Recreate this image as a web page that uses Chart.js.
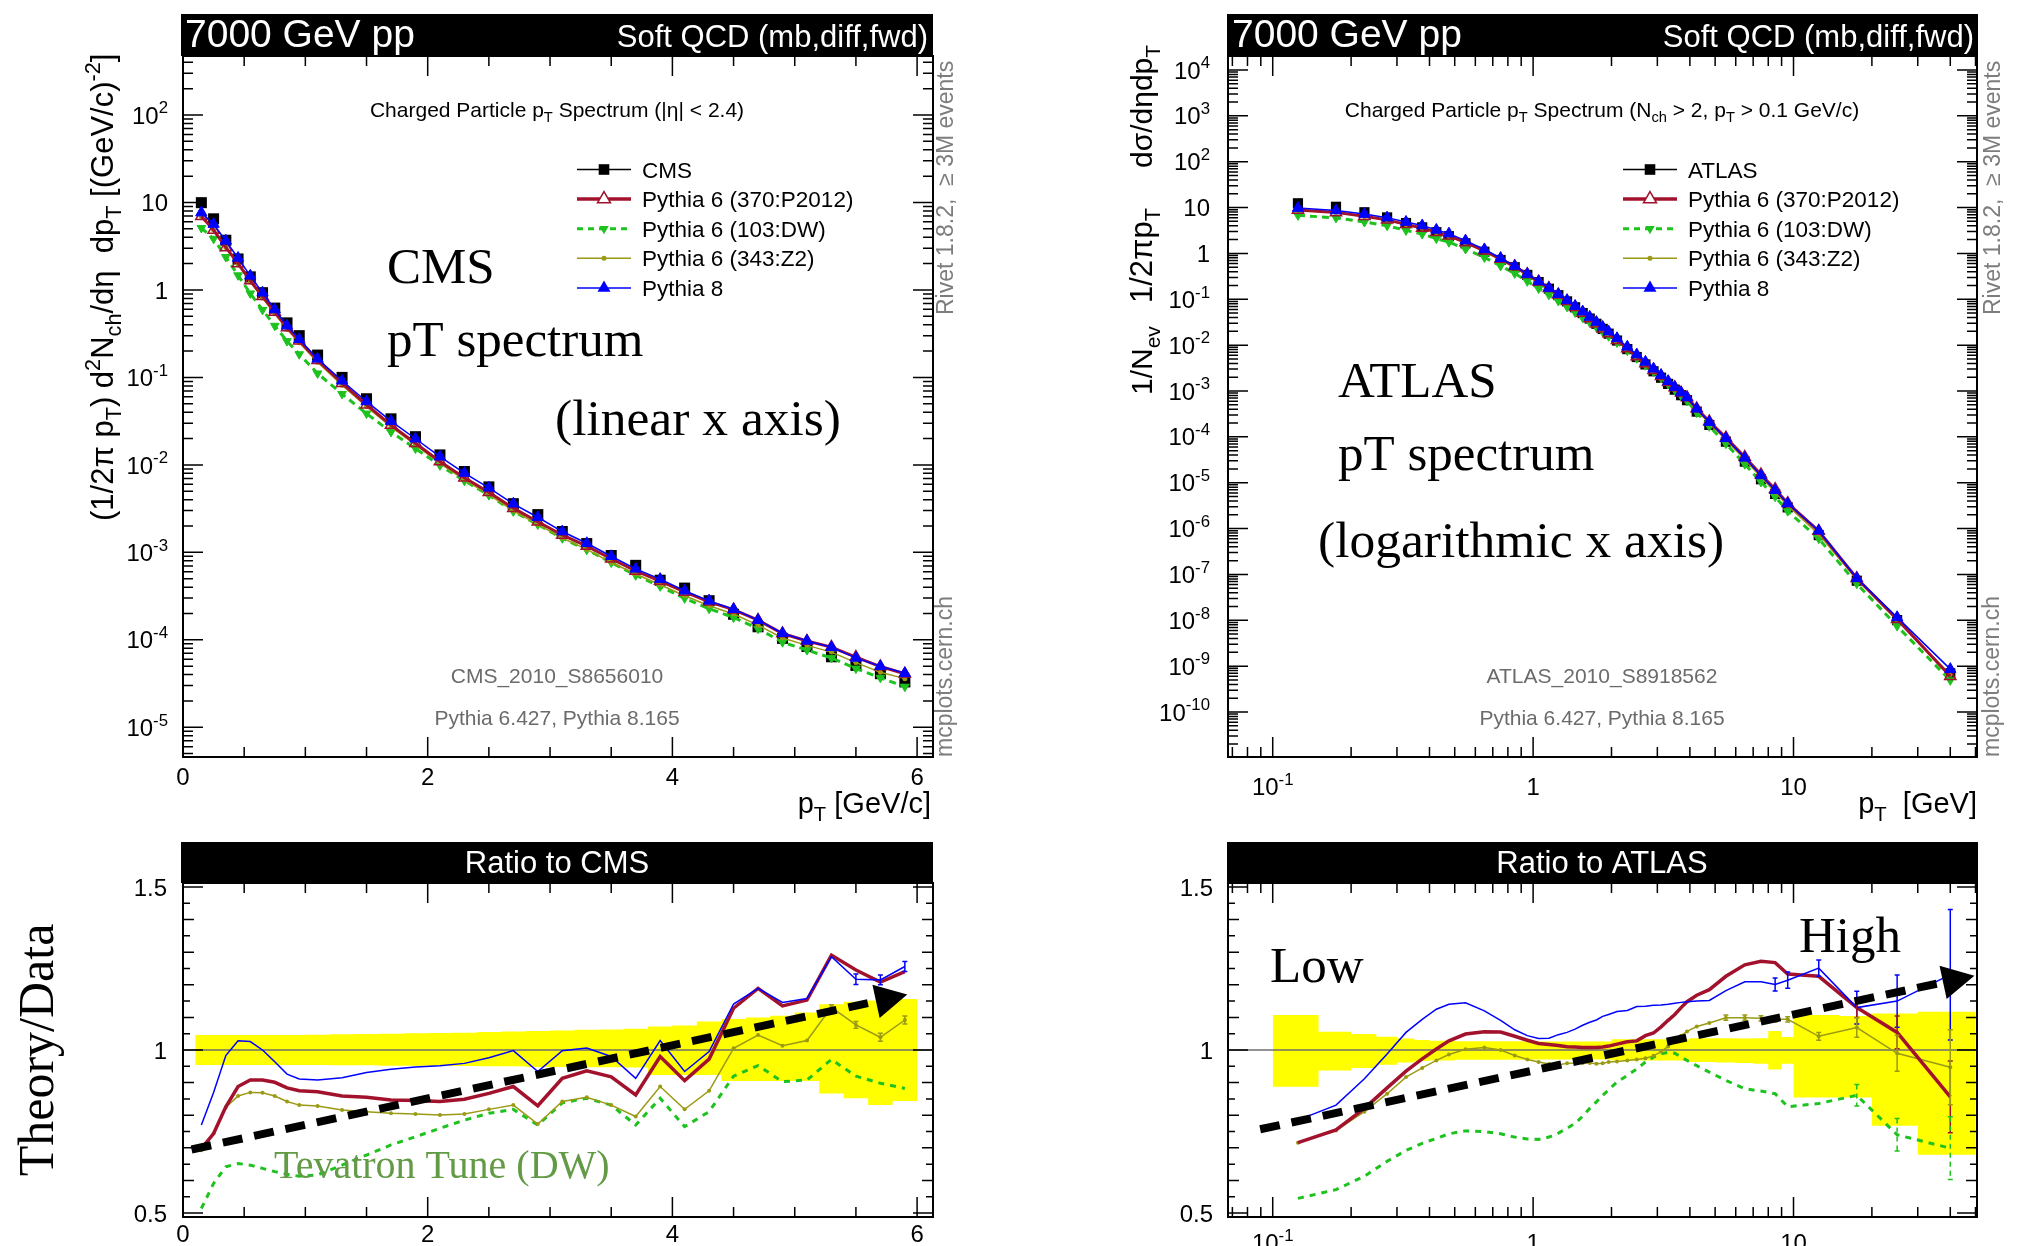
<!DOCTYPE html>
<html><head><meta charset="utf-8">
<script src="https://cdn.jsdelivr.net/npm/chart.js@4.4.1/dist/chart.umd.min.js"></script>
<style>
html,body{margin:0;padding:0;background:#fff;overflow:hidden;width:2018px;height:1246px;}
canvas{position:absolute;left:0;top:0;}
</style></head><body>
<canvas id="tl" width="2018" height="1246"></canvas>
<canvas id="tr" width="2018" height="1246"></canvas>
<canvas id="bl" width="2018" height="1246"></canvas>
<canvas id="br" width="2018" height="1246"></canvas>
<script>
// ---------------- DATA ----------------
const seriesNames = ['Pythia 6 (370:P2012)', 'Pythia 6 (103:DW)', 'Pythia 6 (343:Z2)', 'Pythia 8'];

// CMS (linear x)
const cmsPt = [0.15,0.25,0.35,0.45,0.55,0.65,0.75,0.85,0.95,1.1,1.3,1.5,1.7,1.9,2.1,2.3,2.5,2.7,2.9,3.1,3.3,3.5,3.7,3.9,4.1,4.3,4.5,4.7,4.9,5.1,5.3,5.5,5.7,5.9];
const cmsEdges = [0.1,0.2,0.3,0.4,0.5,0.6,0.7,0.8,0.9,1.0,1.2,1.4,1.6,1.8,2.0,2.2,2.4,2.6,2.8,3.0,3.2,3.4,3.6,3.8,4.0,4.2,4.4,4.6,4.8,5.0,5.2,5.4,5.6,5.8,6.0];
const cmsData = [9.95,6.5,3.7,2.26,1.41,0.93,0.62,0.42,0.30,0.18,0.10,0.057,0.0336,0.021,0.013,0.0084,0.0056,0.0036,0.0027,0.00173,0.00126,0.00092,0.00071,0.00048,0.00039,0.00028,0.000196,0.000141,0.000104,0.000084,0.000064,0.000051,0.000041,0.000033];
const cmsP2012 = [6.95,4.84,3.06,2.01,1.28,0.845,0.559,0.371,0.263,0.157,0.0859,0.0487,0.0285,0.0177,0.01095,0.00713,0.00486,0.0032,0.00224,0.00158,0.00118,0.000845,0.000612,0.00047,0.000353,0.000272,0.000221,0.000168,0.000118,0.0000969,0.0000826,0.0000635,0.0000495,0.0000409];
const cmsDW = [5.11,3.84,2.38,1.47,0.912,0.592,0.389,0.26,0.184,0.111,0.0647,0.0386,0.0238,0.0154,0.00988,0.00659,0.00451,0.00294,0.00208,0.00145,0.00107,0.000765,0.000547,0.000409,0.000298,0.000227,0.00018,0.000134,0.0000939,0.0000763,0.0000621,0.0000469,0.0000368,0.0000291];
const cmsZ2 = [6.90,4.84,3.05,1.94,1.23,0.808,0.533,0.354,0.249,0.149,0.0816,0.0462,0.0271,0.0169,0.0104,0.00675,0.00458,0.00299,0.00209,0.00146,0.00108,0.000765,0.000565,0.000426,0.000319,0.000245,0.000197,0.000147,0.000105,0.0000864,0.0000724,0.0000549,0.0000426,0.000036];
const cmsPy8 = [7.66,5.66,3.64,2.32,1.45,0.93,0.598,0.389,0.273,0.163,0.0915,0.0531,0.0316,0.0199,0.0124,0.00806,0.00547,0.00359,0.00252,0.00173,0.00127,0.000902,0.000648,0.000494,0.000364,0.000279,0.000224,0.000168,0.000119,0.0000973,0.0000823,0.0000621,0.0000498,0.0000414];
const cmsRatioP2012 = [0.698,0.744,0.826,0.888,0.908,0.908,0.901,0.884,0.875,0.872,0.859,0.855,0.847,0.845,0.842,0.849,0.867,0.888,0.829,0.913,0.936,0.918,0.862,0.98,0.906,0.972,1.128,1.189,1.135,1.153,1.291,1.245,1.208,1.24];
const cmsRatioDW = [0.514,0.591,0.642,0.652,0.647,0.637,0.627,0.619,0.613,0.617,0.647,0.678,0.709,0.734,0.76,0.785,0.806,0.818,0.77,0.838,0.852,0.831,0.77,0.852,0.765,0.811,0.92,0.952,0.903,0.908,0.971,0.92,0.898,0.882];
const cmsRatioZ2 = [0.693,0.744,0.824,0.859,0.87,0.869,0.859,0.842,0.831,0.828,0.816,0.811,0.806,0.804,0.801,0.804,0.818,0.831,0.773,0.842,0.855,0.831,0.796,0.888,0.818,0.875,1.005,1.046,1.013,1.029,1.131,1.077,1.039,1.092];
const cmsRatioPy8 = [0.77,0.87,0.983,1.028,1.026,1.0,0.964,0.926,0.911,0.908,0.915,0.931,0.941,0.948,0.952,0.959,0.976,0.998,0.934,0.998,1.006,0.98,0.913,1.029,0.934,0.995,1.141,1.189,1.146,1.158,1.286,1.217,1.215,1.256];
const cmsBandHi = [1.046,1.046,1.046,1.046,1.046,1.046,1.046,1.046,1.046,1.047,1.048,1.049,1.05,1.051,1.052,1.053,1.055,1.057,1.058,1.06,1.062,1.063,1.065,1.072,1.075,1.087,1.095,1.1,1.105,1.115,1.14,1.148,1.152,1.156];
const cmsBandLo = [0.954,0.954,0.954,0.954,0.954,0.954,0.954,0.954,0.954,0.954,0.953,0.953,0.952,0.952,0.951,0.951,0.95,0.95,0.948,0.948,0.947,0.947,0.946,0.923,0.923,0.923,0.905,0.905,0.905,0.905,0.867,0.852,0.831,0.844];
const cmsErrZ2 = [0,0,0,0,0,0,0,0,0,0,0,0,0,0,0,0,0,0,0,0,0,0,0,0,0,0,0,0,0,0,0.008,0.01,0.012,0.012];
const cmsErrPy8 = [0,0,0,0,0,0,0,0,0,0,0,0,0,0,0,0,0,0,0,0,0,0,0,0,0,0,0,0,0,0,0,0.016,0.015,0.015];

// ATLAS (log x)
const atlasPt = [0.125,0.175,0.225,0.275,0.325,0.375,0.425,0.475,0.55,0.65,0.75,0.85,0.95,1.05,1.15,1.25,1.35,1.45,1.55,1.65,1.75,1.85,1.95,2.1,2.3,2.5,2.7,2.9,3.1,3.3,3.5,3.7,3.9,4.25,4.75,5.5,6.5,7.5,8.5,9.5,12.5,17.5,25,40];
const atlasEdges = [0.1,0.15,0.2,0.25,0.3,0.35,0.4,0.45,0.5,0.6,0.7,0.8,0.9,1.0,1.1,1.2,1.3,1.4,1.5,1.6,1.7,1.8,1.9,2.0,2.2,2.4,2.6,2.8,3.0,3.2,3.4,3.6,3.8,4.0,4.5,5.0,6.0,7.0,8.0,9.0,10,15,20,30,50];
const atlasData = [12.4,10.4,7.9,6.1,4.6,3.7,2.9,2.37,1.66,1.09,0.72,0.50,0.34,0.237,0.17,0.123,0.090,0.0668,0.050,0.038,0.0292,0.0226,0.0178,0.0126,0.0082,0.0055,0.0038,0.00269,0.00195,0.00143,0.00107,0.00081,0.00063,0.000355,0.000182,7.85e-5,2.88e-5,1.19e-5,5.7e-6,2.9e-6,7.2e-7,7.3e-8,1.01e-8,7.0e-10];
const atlasP2012 = [8.88,7.85,6.49,5.39,4.30,3.60,2.91,2.44,1.74,1.15,0.76,0.521,0.350,0.242,0.173,0.125,0.0909,0.0674,0.0504,0.0383,0.0294,0.0228,0.018,0.0128,0.0084,0.00565,0.00397,0.00283,0.00209,0.00156,0.00119,0.000915,0.000723,0.000415,0.000216,9.62e-5,3.63e-5,1.51e-5,7.23e-6,3.58e-6,8.83e-7,8.25e-8,1.06e-8,6.0e-10];
const atlasDW = [6.76,5.95,4.84,4.02,3.18,2.64,2.11,1.76,1.25,0.818,0.535,0.367,0.247,0.172,0.125,0.0916,0.0684,0.0518,0.0399,0.0312,0.0246,0.0195,0.0156,0.0114,0.00756,0.00518,0.00366,0.00263,0.00193,0.00142,0.00106,0.000792,0.00061,0.000338,0.00017,7.12e-5,2.54e-5,1.04e-5,4.94e-6,2.4e-6,6.02e-7,6.29e-8,7.47e-9,4.9e-10];
const atlasZ2 = [8.88,7.83,6.41,5.28,4.22,3.50,2.81,2.34,1.66,1.10,0.72,0.492,0.330,0.228,0.163,0.117,0.0863,0.0641,0.048,0.0365,0.028,0.0217,0.0171,0.0122,0.00794,0.00534,0.00371,0.00264,0.00194,0.00145,0.0011,0.000846,0.000666,0.000381,0.000197,8.63e-5,3.17e-5,1.31e-5,6.24e-6,3.17e-6,7.5e-7,7.8e-8,1.0e-8,6.6e-10];
const atlasPy8 = [9.73,8.64,7.2,6.03,4.85,4.05,3.26,2.70,1.90,1.22,0.786,0.531,0.355,0.245,0.176,0.129,0.0949,0.0711,0.0538,0.0412,0.0319,0.0249,0.0197,0.0141,0.00919,0.00623,0.00431,0.00306,0.00222,0.00163,0.00122,0.000928,0.000723,0.000408,0.00021,9.28e-5,3.48e-5,1.44e-5,6.85e-6,3.52e-6,9.0e-7,8.25e-8,1.16e-8,8.6e-10];
const atlasRatioP2012 = [0.716,0.755,0.821,0.884,0.935,0.973,1.003,1.028,1.049,1.056,1.055,1.042,1.03,1.02,1.017,1.014,1.01,1.009,1.008,1.008,1.008,1.009,1.012,1.018,1.025,1.028,1.044,1.052,1.071,1.091,1.109,1.13,1.148,1.168,1.185,1.226,1.261,1.272,1.268,1.233,1.226,1.13,1.054,0.856];
const atlasRatioDW = [0.545,0.572,0.613,0.659,0.692,0.714,0.729,0.743,0.752,0.75,0.743,0.733,0.727,0.726,0.733,0.745,0.76,0.775,0.797,0.821,0.841,0.861,0.878,0.902,0.922,0.942,0.963,0.978,0.988,0.993,0.99,0.978,0.968,0.952,0.932,0.907,0.881,0.874,0.866,0.826,0.836,0.861,0.74,0.699];
const atlasRatioZ2 = [0.716,0.753,0.811,0.866,0.917,0.945,0.968,0.986,1.002,1.008,1.0,0.983,0.971,0.963,0.957,0.955,0.959,0.96,0.96,0.96,0.958,0.959,0.963,0.965,0.968,0.971,0.975,0.982,0.995,1.011,1.028,1.044,1.057,1.072,1.083,1.099,1.099,1.097,1.094,1.094,1.042,1.069,0.99,0.947];
const atlasRatioPy8 = [0.785,0.831,0.912,0.988,1.054,1.094,1.125,1.14,1.145,1.12,1.091,1.062,1.044,1.035,1.036,1.047,1.054,1.064,1.076,1.085,1.092,1.103,1.109,1.118,1.121,1.133,1.134,1.137,1.138,1.14,1.143,1.146,1.148,1.15,1.152,1.182,1.209,1.209,1.201,1.214,1.251,1.13,1.15,1.231];
const atlasBandHi = [1.107,1.056,1.049,1.041,1.035,1.031,1.028,1.028,1.027,1.027,1.027,1.027,1.027,1.026,1.026,1.026,1.026,1.026,1.026,1.026,1.026,1.026,1.026,1.033,1.033,1.033,1.033,1.033,1.033,1.033,1.033,1.033,1.033,1.036,1.036,1.036,1.035,1.036,1.058,1.04,1.107,1.104,1.112,1.117];
const atlasBandLo = [0.887,0.937,0.945,0.955,0.962,0.966,0.968,0.968,0.97,0.97,0.97,0.97,0.97,0.971,0.971,0.971,0.971,0.971,0.971,0.971,0.971,0.971,0.971,0.968,0.968,0.968,0.968,0.968,0.968,0.968,0.968,0.968,0.968,0.963,0.963,0.962,0.96,0.958,0.94,0.958,0.854,0.854,0.768,0.679];
const atlasErrPy8 = [0,0,0,0,0,0,0,0,0,0,0,0,0,0,0,0,0,0,0,0,0,0,0,0,0,0,0,0,0,0,0,0,0,0,0,0,0,0,0.02,0.025,0.025,0.05,0.08,0.2];
const atlasErrP2012 = [0,0,0,0,0,0,0,0,0,0,0,0,0,0,0,0,0,0,0,0,0,0,0,0,0,0,0,0,0,0,0,0,0,0,0,0,0,0,0,0,0,0.03,0.05,0.11];
const atlasErrZ2 = [0,0,0,0,0,0,0,0,0,0,0,0,0,0,0,0,0,0,0,0,0,0,0,0,0,0,0,0,0,0,0,0,0,0,0,0.008,0.008,0.008,0.008,0.008,0.012,0.03,0.055,0.115];
const atlasErrDW = [0,0,0,0,0,0,0,0,0,0,0,0,0,0,0,0,0,0,0,0,0,0,0,0,0,0,0,0,0,0,0,0,0,0,0,0,0,0,0,0,0,0.033,0.05,0.096];

// tick labels
const tlXTicks = [0,2,4,6], tlXLabels = ['0','2','4','6'];
const tlYTicks = [1e2,1e1,1,1e-1,1e-2,1e-3,1e-4,1e-5];
const tlYLabels = ['10^{2}','10','1','10^{-1}','10^{-2}','10^{-3}','10^{-4}','10^{-5}'];
const trXTicks = [0.1,1,10], trXLabels = ['10^{-1}','1','10'];
const trYTicks = [1e4,1e3,1e2,1e1,1,1e-1,1e-2,1e-3,1e-4,1e-5,1e-6,1e-7,1e-8,1e-9,1e-10];
const trYLabels = ['10^{4}','10^{3}','10^{2}','10','1','10^{-1}','10^{-2}','10^{-3}','10^{-4}','10^{-5}','10^{-6}','10^{-7}','10^{-8}','10^{-9}','10^{-10}'];
const ratioYTicks = [0.5,1,1.5], ratioYLabels = ['0.5','1','1.5'];

// annotation arrows (data coordinates of ratio panels)
const arrowCMS = {x0: 0.07, y0: 0.695, x1: 5.92, y1: 1.17};
const arrowATLAS = {x0: 0.0895, y0: 0.757, x1: 49.5, y1: 1.228};

// ---------------- STYLE / HELPERS ----------------
const SANS = '"Liberation Sans", Arial, Helvetica, sans-serif';
const SERIF = '"Liberation Serif", "Times New Roman", Times, serif';
const RED = '#a3122c', GREEN = '#1ec21e', OLIVE = '#9a9a14', BLUE = '#0000ff', YELLOW = '#ffff00';
const W = 2018, H = 1246;
const FR = {tl:{l:183,t:56,r:933,b:757}, tr:{l:1228,t:56,r:1977,b:757}, bl:{l:183,t:883,r:933,b:1217}, br:{l:1228,t:883,r:1977,b:1217}};
const RANGE = {tlX:[0,6.13], tlY:[4.574e-6,472.6], trX:[0.06734,50.66], trY:[1.045e-11,2.018e4], rY:[0.488,1.512]};

function pts(xs, ys){ return xs.map((x,i)=>({x:x, y:ys[i]})); }
function steps(edges, vals){ const a = vals.map((v,i)=>({x:edges[i], y:v})); a.push({x:edges[edges.length-1], y:vals[vals.length-1]}); return a; }
function fnt(s, f){ return s + 'px ' + f; }
function parseRich(s){
  const out=[]; let i=0, cur='';
  while(i<s.length){
    if((s[i]==='_'||s[i]==='^') && s[i+1]==='{'){
      if(cur) out.push([cur,0]); cur='';
      const j=s.indexOf('}',i);
      out.push([s.slice(i+2,j), s[i]==='_'?1:2]); i=j+1;
    } else { cur+=s[i]; i++; }
  }
  if(cur) out.push([cur,0]);
  return out;
}
function drawRich(ctx, str, x, y, o){
  const size=o.size, fam=o.fam||SANS, segs=parseRich(str);
  ctx.save(); ctx.translate(x,y); if(o.rot) ctx.rotate(o.rot);
  ctx.fillStyle=o.color||'#000'; ctx.textBaseline='alphabetic'; ctx.textAlign='left';
  let w=0; for(const [t,m] of segs){ ctx.font=fnt(m?size*0.7:size,fam); w+=ctx.measureText(t).width; }
  let cx = o.align==='center' ? -w/2 : (o.align==='right' ? -w : 0);
  for(const [t,m] of segs){
    ctx.font=fnt(m?size*0.7:size,fam);
    const dy = m===1 ? size*0.26 : (m===2 ? -size*0.43 : 0);
    ctx.fillText(t,cx,dy); cx+=ctx.measureText(t).width;
  }
  ctx.restore();
}
function linTicks(min,max,step,len,majStep,majLen){
  const t=[]; const n0=Math.ceil(min/step-1e-9), n1=Math.floor(max/step+1e-9);
  for(let n=n0;n<=n1;n++){ const v=+(n*step).toFixed(6); const mj=Math.abs(v/majStep-Math.round(v/majStep))<1e-6; t.push([v, mj?majLen:len]); }
  return t;
}
function ratioTicks(min,max){
  const t=[]; for(let n=Math.ceil(min*20);n<=Math.floor(max*20);n++){ const v=n/20; let len=7; if(n%2===0) len=11; if(n%10===0) len=20; t.push([v,len]); }
  return t;
}
function logTicks(min,max,majLen,minLen){
  const t=[]; for(let e=Math.floor(Math.log10(min));e<=Math.ceil(Math.log10(max));e++) for(let m=1;m<=9;m++){ const v=m*Math.pow(10,e); if(v>=min&&v<=max) t.push([v, m===1?majLen:minLen]); }
  return t;
}
function drawAxes(c, xt, yt){
  const ctx=c.ctx, a=c.chartArea, xs=c.scales.x, ys=c.scales.y;
  ctx.save(); ctx.strokeStyle='#000'; ctx.lineWidth=1.5; ctx.beginPath();
  for(const [v,len] of xt){ const px=xs.getPixelForValue(v); if(px<a.left-0.5||px>a.right+0.5) continue; ctx.moveTo(px,a.bottom); ctx.lineTo(px,a.bottom-len); ctx.moveTo(px,a.top); ctx.lineTo(px,a.top+len); }
  for(const [v,len] of yt){ const py=ys.getPixelForValue(v); if(py<a.top-0.5||py>a.bottom+0.5) continue; ctx.moveTo(a.left,py); ctx.lineTo(a.left+len,py); ctx.moveTo(a.right,py); ctx.lineTo(a.right-len,py); }
  ctx.stroke();
  ctx.lineWidth=2; ctx.strokeRect(a.left,a.top,a.right-a.left,a.bottom-a.top);
  ctx.restore();
}
function yLabels(c, vals, labs, xr, size){ vals.forEach((v,i)=>{ const py=c.scales.y.getPixelForValue(v); drawRich(c.ctx, labs[i], xr, py+size*0.36, {size:size, align:'right'}); }); }
function xLabels(c, vals, labs, base, size){ vals.forEach((v,i)=>{ const px=c.scales.x.getPixelForValue(v); drawRich(c.ctx, labs[i], px, base, {size:size, align:'center'}); }); }
function header(ctx, x0, x1, y0, y1){ ctx.save(); ctx.fillStyle='#000'; ctx.fillRect(x0,y0,x1-x0,y1-y0); ctx.restore(); }
function marker(ctx, kind, x, y, r, color){
  ctx.save(); ctx.fillStyle=color; ctx.strokeStyle=color; ctx.lineWidth=1.5; ctx.beginPath();
  if(kind==='rect'){ const s=r*Math.SQRT1_2; ctx.rect(x-s,y-s,2*s,2*s); ctx.fill(); }
  else if(kind==='dot'){ ctx.arc(x,y,r,0,Math.PI*2); ctx.fill(); }
  else { const sg = kind==='dtri'?-1:1; ctx.moveTo(x,y-sg*r); ctx.lineTo(x+0.866*r,y+sg*0.5*r); ctx.lineTo(x-0.866*r,y+sg*0.5*r); ctx.closePath();
    if(kind==='otri'){ ctx.fillStyle='#fff'; ctx.fill(); ctx.stroke(); } else ctx.fill(); }
  ctx.restore();
}
function legend(ctx, dx, first){
  const items=[[first,'#000',1.5,null,'rect',7.5],[seriesNames[0],RED,3.5,null,'otri',7.5],[seriesNames[1],GREEN,3,[6,5],'dtri',5.5],[seriesNames[2],OLIVE,1.5,null,'dot',2.5],[seriesNames[3],BLUE,1.5,null,'tri',7.5]];
  items.forEach((it,i)=>{
    const y=169.5+29.6*i;
    ctx.save(); ctx.strokeStyle=it[1]; ctx.lineWidth=it[2]; ctx.setLineDash(it[3]||[]); ctx.beginPath(); ctx.moveTo(577+dx,y); ctx.lineTo(631+dx,y); ctx.stroke(); ctx.restore();
    marker(ctx,it[4],604+dx,y,it[5],it[1]);
    drawRich(ctx,it[0],642+dx,y+8,{size:22.5});
  });
}
function drawErrors(c){
  const ctx=c.ctx, xs=c.scales.x, ys=c.scales.y;
  c.data.datasets.forEach(ds=>{
    if(!ds.errs) return;
    ctx.save(); ctx.strokeStyle=ds.borderColor; ctx.lineWidth=1.5; ctx.setLineDash(ds.errDash||[]);
    ds.data.forEach((p,i)=>{ const e=ds.errs[i]; if(!e) return;
      const px=xs.getPixelForValue(p.x), y1=ys.getPixelForValue(p.y+e), y2=ys.getPixelForValue(p.y-e);
      ctx.beginPath(); ctx.moveTo(px,y1); ctx.lineTo(px,y2); ctx.moveTo(px-2.5,y1); ctx.lineTo(px+2.5,y1); ctx.moveTo(px-2.5,y2); ctx.lineTo(px+2.5,y2); ctx.stroke(); });
    ctx.restore();
  });
}
function drawArrow(c, ar){
  const ctx=c.ctx, xs=c.scales.x, ys=c.scales.y;
  const x0=xs.getPixelForValue(ar.x0), y0=ys.getPixelForValue(ar.y0), x1=xs.getPixelForValue(ar.x1), y1=ys.getPixelForValue(ar.y1);
  const ang=Math.atan2(y1-y0,x1-x0), L=32, hw=17;
  const bx=x1-L*Math.cos(ang), by=y1-L*Math.sin(ang);
  ctx.save(); ctx.strokeStyle='#000'; ctx.fillStyle='#000'; ctx.lineWidth=8; ctx.lineCap='butt'; ctx.setLineDash([20,12]);
  ctx.beginPath(); ctx.moveTo(x0,y0); ctx.lineTo(bx,by); ctx.stroke();
  ctx.setLineDash([]); ctx.beginPath(); ctx.moveTo(x1,y1); ctx.lineTo(bx-hw*Math.sin(ang),by+hw*Math.cos(ang)); ctx.lineTo(bx+hw*Math.sin(ang),by-hw*Math.cos(ang)); ctx.closePath(); ctx.fill();
  ctx.restore();
}
function specSets(xs, data, p2012, dw, z2, py8, sq){
  return [
    {data:pts(xs,py8), borderColor:BLUE, borderWidth:1.5, pointStyle:'triangle', pointRadius:6.5, pointBackgroundColor:BLUE, pointBorderColor:BLUE, pointBorderWidth:1, order:1},
    {data:pts(xs,p2012), borderColor:RED, borderWidth:3, pointStyle:'triangle', pointRadius:6.5, pointBackgroundColor:'rgba(0,0,0,0)', pointBorderColor:RED, pointBorderWidth:1.5, order:2},
    {data:pts(xs,z2), borderColor:OLIVE, borderWidth:1.5, pointStyle:'circle', pointRadius:2.5, pointBackgroundColor:OLIVE, pointBorderColor:OLIVE, pointBorderWidth:0, order:3},
    {data:pts(xs,dw), borderColor:GREEN, borderWidth:3, borderDash:[7,5], pointStyle:'triangle', pointRotation:180, pointRadius:5, pointBackgroundColor:GREEN, pointBorderColor:GREEN, pointBorderWidth:1, order:4},
    {data:pts(xs,data), showLine:false, pointStyle:'rect', pointRadius:sq, pointBackgroundColor:'#000', pointBorderColor:'#000', pointBorderWidth:0, order:5}
  ];
}
function ratioSets(xs, edges, rP, rD, rZ, rB, hi, lo, xr, errs){
  return [
    {data:pts(xs,rB), borderColor:BLUE, borderWidth:1.5, pointRadius:0, order:1, errs:errs.py8},
    {data:pts(xs,rP), borderColor:RED, borderWidth:3.5, pointRadius:0, order:2, errs:errs.p2012},
    {data:pts(xs,rZ), borderColor:OLIVE, borderWidth:1.5, pointRadius:2, pointBackgroundColor:OLIVE, pointBorderColor:OLIVE, pointBorderWidth:0, order:3, errs:errs.z2},
    {data:pts(xs,rD), borderColor:GREEN, borderWidth:3, borderDash:[6,6], pointRadius:0, order:4, errs:errs.dw, errDash:[5,4]},
    {data:[{x:xr[0],y:1},{x:xr[1],y:1}], borderColor:'#6e6e6e', borderWidth:1.5, pointRadius:0, order:8},
    {data:steps(edges,hi), borderColor:'rgba(0,0,0,0)', borderWidth:0, stepped:true, fill:'+1', backgroundColor:YELLOW, pointRadius:0, order:9},
    {data:steps(edges,lo), borderColor:'rgba(0,0,0,0)', borderWidth:0, stepped:true, fill:false, pointRadius:0, order:10}
  ];
}
function makeChart(id, fr, xType, xr, yType, yr, datasets, draw, arrow){
  return new Chart(document.getElementById(id), {
    type:'line',
    data:{datasets:datasets},
    options:{
      responsive:false, maintainAspectRatio:false, animation:false, devicePixelRatio:1, events:[],
      layout:{padding:{left:fr.l, top:fr.t, right:W-fr.r, bottom:H-fr.b}},
      scales:{
        x:{type:xType, min:xr[0], max:xr[1], display:false, bounds:'data'},
        y:{type:yType, min:yr[0], max:yr[1], display:false, bounds:'data'}
      },
      plugins:{legend:{display:false}, tooltip:{enabled:false}, title:{display:false}},
      elements:{line:{tension:0}}
    },
    plugins:[{id:'deco', afterDatasetsDraw(c){ drawErrors(c); if(arrow) drawArrow(c, arrow); }, afterDraw(c){ draw(c); }}]
  });
}
const rot = -Math.PI/2;

// ---------------- TOP LEFT ----------------
makeChart('tl', FR.tl, 'linear', RANGE.tlX, 'logarithmic', RANGE.tlY,
  specSets(cmsPt, cmsData, cmsP2012, cmsDW, cmsZ2, cmsPy8, 7.8),
  function(c){
    const ctx=c.ctx;
    drawAxes(c, linTicks(0,6.13,0.5,10,2,20), logTicks(RANGE.tlY[0],RANGE.tlY[1],20,10));
    header(ctx,181,933,14,56);
    drawRich(ctx,'7000 GeV pp',185,47,{size:39,color:'#fff'});
    drawRich(ctx,'Soft QCD (mb,diff,fwd)',928,47,{size:31,color:'#fff',align:'right'});
    drawRich(ctx,'Charged Particle p_{T} Spectrum (|η| < 2.4)',557,117,{size:21,align:'center'});
    legend(ctx,0,'CMS');
    drawRich(ctx,'CMS',387,283,{size:51,fam:SERIF});
    drawRich(ctx,'pT spectrum',387,356,{size:51,fam:SERIF});
    drawRich(ctx,'(linear x axis)',555,435,{size:51.5,fam:SERIF});
    drawRich(ctx,'CMS_2010_S8656010',557,683,{size:21,color:'#6b6b6b',align:'center'});
    drawRich(ctx,'Pythia 6.427, Pythia 8.165',557,725,{size:21,color:'#6b6b6b',align:'center'});
    drawRich(ctx,'Rivet 1.8.2,  ≥ 3M events',953,315,{size:23,color:'#7d7d7d',rot:rot});
    drawRich(ctx,'mcplots.cern.ch',952,757,{size:23,color:'#7d7d7d',rot:rot});
    yLabels(c,tlYTicks,tlYLabels,168,24);
    xLabels(c,tlXTicks,tlXLabels,785,24);
    drawRich(ctx,'p_{T} [GeV/c]',931,813,{size:29,align:'right'});
    drawRich(ctx,'(1/2π p_{T}) d^{2}N_{ch}/dη  dp_{T} [(GeV/c)^{-2}]',113,521,{size:31,rot:rot});
  });

// ---------------- TOP RIGHT ----------------
makeChart('tr', FR.tr, 'logarithmic', RANGE.trX, 'logarithmic', RANGE.trY,
  specSets(atlasPt, atlasData, atlasP2012, atlasDW, atlasZ2, atlasPy8, 7.2),
  function(c){
    const ctx=c.ctx;
    drawAxes(c, logTicks(RANGE.trX[0],RANGE.trX[1],20,10), logTicks(RANGE.trY[0],RANGE.trY[1],20,10));
    header(ctx,1227,1978,14,56);
    drawRich(ctx,'7000 GeV pp',1232,47,{size:39,color:'#fff'});
    drawRich(ctx,'Soft QCD (mb,diff,fwd)',1974,47,{size:31,color:'#fff',align:'right'});
    drawRich(ctx,'Charged Particle p_{T} Spectrum (N_{ch} > 2, p_{T} > 0.1 GeV/c)',1602,117,{size:21,align:'center'});
    legend(ctx,1046,'ATLAS');
    drawRich(ctx,'ATLAS',1338,397,{size:51,fam:SERIF});
    drawRich(ctx,'pT spectrum',1338,470,{size:51,fam:SERIF});
    drawRich(ctx,'(logarithmic x axis)',1318,557,{size:51.5,fam:SERIF});
    drawRich(ctx,'ATLAS_2010_S8918562',1602,683,{size:21,color:'#6b6b6b',align:'center'});
    drawRich(ctx,'Pythia 6.427, Pythia 8.165',1602,725,{size:21,color:'#6b6b6b',align:'center'});
    drawRich(ctx,'Rivet 1.8.2,  ≥ 3M events',2000,315,{size:23,color:'#7d7d7d',rot:rot});
    drawRich(ctx,'mcplots.cern.ch',1999,757,{size:23,color:'#7d7d7d',rot:rot});
    yLabels(c,trYTicks,trYLabels,1210,24);
    xLabels(c,trXTicks,trXLabels,795,24);
    drawRich(ctx,'p_{T}  [GeV]',1977,813,{size:29,align:'right'});
    drawRich(ctx,'1/N_{ev}',1152,395,{size:30,rot:rot});
    drawRich(ctx,'1/2πp_{T}',1152,303,{size:31,rot:rot});
    drawRich(ctx,'dσ/dηdp_{T}',1152,168,{size:30,rot:rot});
  });

// ---------------- BOTTOM LEFT ----------------
makeChart('bl', FR.bl, 'linear', RANGE.tlX, 'linear', RANGE.rY,
  ratioSets(cmsPt, cmsEdges, cmsRatioP2012, cmsRatioDW, cmsRatioZ2, cmsRatioPy8, cmsBandHi, cmsBandLo, RANGE.tlX, {py8:cmsErrPy8, z2:cmsErrZ2}),
  function(c){
    const ctx=c.ctx;
    drawAxes(c, linTicks(0,6.13,0.5,10,2,20), ratioTicks(RANGE.rY[0],RANGE.rY[1]));
    header(ctx,181,933,842,883);
    drawRich(ctx,'Ratio to CMS',557,873,{size:31,color:'#fff',align:'center'});
    drawRich(ctx,'Tevatron Tune (DW)',274,1178,{size:40,fam:SERIF,color:'#629a45'});
    yLabels(c,ratioYTicks,ratioYLabels,167,24);
    xLabels(c,tlXTicks,tlXLabels,1242,24);
    drawRich(ctx,'Theory/Data',53,1050,{size:50,fam:SERIF,rot:rot,align:'center'});
  }, arrowCMS);

// ---------------- BOTTOM RIGHT ----------------
makeChart('br', FR.br, 'logarithmic', RANGE.trX, 'linear', RANGE.rY,
  ratioSets(atlasPt, atlasEdges, atlasRatioP2012, atlasRatioDW, atlasRatioZ2, atlasRatioPy8, atlasBandHi, atlasBandLo, RANGE.trX, {py8:atlasErrPy8, p2012:atlasErrP2012, z2:atlasErrZ2, dw:atlasErrDW}),
  function(c){
    const ctx=c.ctx;
    drawAxes(c, logTicks(RANGE.trX[0],RANGE.trX[1],20,10), ratioTicks(RANGE.rY[0],RANGE.rY[1]));
    header(ctx,1227,1978,842,883);
    drawRich(ctx,'Ratio to ATLAS',1602,873,{size:31,color:'#fff',align:'center'});
    drawRich(ctx,'Low',1270,982,{size:51,fam:SERIF});
    drawRich(ctx,'High',1799,952,{size:51,fam:SERIF});
    yLabels(c,ratioYTicks,ratioYLabels,1213,24);
    xLabels(c,trXTicks,trXLabels,1251,24);
  }, arrowATLAS);
</script></body></html>
